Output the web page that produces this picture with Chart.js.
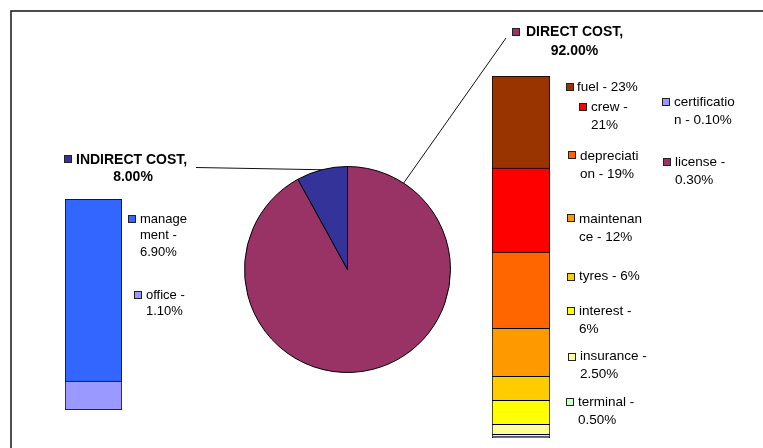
<!DOCTYPE html>
<html>
<head>
<meta charset="utf-8">
<script src="https://cdn.jsdelivr.net/npm/chart.js@4"></script>
<style>
  body { margin: 0; background: #fff; }
  #wrap { position: relative; width: 763px; height: 448px; overflow: hidden; }
  #wrap canvas { position: absolute; left: 0; top: 0; }
</style>
</head>
<body>
<div id="wrap">
  <canvas id="pieChart" width="763" height="448"></canvas>
  <canvas id="indirectChart" width="763" height="448"></canvas>
  <canvas id="directChart" width="763" height="448"></canvas>
</div>
<script>
// Cost split (pie)
const costLabels = ['DIRECT COST', 'INDIRECT COST'];
const costValues = [92, 8];
const costColors = ['#993366', '#333399'];

// Indirect cost breakdown, stacked bottom to top
const indirectNames = ['office', 'management'];
const indirectValues = [1.1, 6.9];
const indirectColors = ['#9999FF', '#3366FF'];
const indirectLegend = [['office -', '1.10%'], ['manage', 'ment -', '6.90%']];

// Direct cost breakdown, stacked bottom to top
const directNames = ['license', 'certification', 'terminal', 'insurance', 'interest', 'tyres', 'maintenance', 'depreciation', 'crew', 'fuel'];
const directValues = [0.3, 0.1, 0.5, 2.5, 6, 6, 12, 19, 21, 23];
const directColors = ['#993366', '#9999FF', '#CCFFCC', '#FFFF99', '#FFFF00', '#FFCC00', '#FF9900', '#FF6600', '#FF0000', '#993300'];
const directLegend = [['license -', '0.30%'], ['certificatio', 'n - 0.10%'], ['terminal -', '0.50%'], ['insurance -', '2.50%'], ['interest -', '6%'], ['tyres - 6%'], ['maintenan', 'ce - 12%'], ['depreciati', 'on - 19%'], ['crew -', '21%'], ['fuel - 23%']];

const FONT = "'Liberation Sans', Arial, sans-serif";
Chart.defaults.font.family = FONT;

// legend spots: [marker x, marker y, text x, first line middle y]
const indirectLegendPos = [[134, 291, 146, 295], [128, 215, 140, 219]];
const directLegendPos = [
  [663, 158, 675, 162], [662, 98, 674, 102], [566, 398, 578, 402], [568, 353, 580, 356],
  [567, 307, 579, 311], [567, 273, 579, 276], [567, 214, 579, 219], [568, 151, 580, 156],
  [579, 103, 591, 107], [566, 83, 577, 87]
];

function drawMarker(ctx, x, y, color) {
  ctx.fillStyle = color;
  ctx.fillRect(x, y, 8, 8);
  ctx.strokeStyle = '#222';
  ctx.lineWidth = 1;
  ctx.strokeRect(x + 0.5, y + 0.5, 7, 7);
}

// side legend drawn next to each stacked bar
const sideLegend = {
  id: 'sideLegend',
  afterDraw(chart, args, opts) {
    const ctx = chart.ctx;
    ctx.save();
    ctx.font = opts.size + 'px ' + FONT;
    ctx.textBaseline = 'middle';
    ctx.textAlign = 'left';
    chart.data.datasets.forEach((ds, i) => {
      const [mx, my, tx, ty] = opts.pos[i];
      drawMarker(ctx, mx, my, ds.backgroundColor);
      ctx.fillStyle = '#000';
      opts.lines[i].forEach((line, k) => ctx.fillText(line, tx, ty + k * opts.lineHeight));
    });
    ctx.restore();
  }
};

function stackedBar(canvasId, names, values, colors, padding, legend) {
  const total = values.reduce((a, b) => a + b, 0);
  return new Chart(document.getElementById(canvasId), {
    type: 'bar',
    data: {
      labels: [''],
      datasets: names.map((n, i) => ({
        label: n,
        data: [values[i]],
        backgroundColor: colors[i],
        borderColor: '#000',
        borderWidth: 1,
        borderSkipped: i === 0 ? false : 'start',
        barPercentage: 1,
        categoryPercentage: 1
      }))
    },
    options: {
      responsive: false,
      animation: false,
      layout: { padding },
      scales: {
        x: { display: false, stacked: true },
        y: { display: false, stacked: true, min: 0, max: total }
      },
      plugins: {
        legend: { display: false },
        tooltip: { enabled: false },
        sideLegend: legend
      }
    },
    plugins: [sideLegend]
  });
}

// frame, leader lines and slice labels around the pie
const pieLabels = {
  id: 'pieLabels',
  beforeDraw(chart) {
    const ctx = chart.ctx;
    ctx.save();
    ctx.strokeStyle = '#222';
    ctx.lineWidth = 1.6;
    ctx.strokeRect(11, 11, 900, 600);
    ctx.restore();
  },
  afterDraw(chart) {
    const ctx = chart.ctx;
    const arcs = chart.getDatasetMeta(0).data;
    const cx = arcs[0].x, cy = arcs[0].y, r = arcs[0].outerRadius;
    const onArc = a => [cx + r * Math.cos(a), cy + r * Math.sin(a)];

    // leader lines: indirect to its slice middle, direct to upper right of the pie
    const indirectMid = (arcs[1].startAngle + arcs[1].endAngle) / 2;
    const leaders = [
      [[506, 38], onArc(-Math.PI / 2 + 33 * Math.PI / 180)],
      [[196, 167.5], onArc(indirectMid)]
    ];
    ctx.save();
    ctx.strokeStyle = '#111';
    ctx.lineWidth = 1;
    leaders.forEach(([a, b]) => {
      ctx.beginPath();
      ctx.moveTo(a[0], a[1]);
      ctx.lineTo(b[0], b[1]);
      ctx.stroke();
    });

    // [marker x, marker y, name x, name y, value centre x, value y]
    const spots = [[512, 28, 526, 32, 574.5, 51], [64, 155, 76, 160, 133, 177]];
    ctx.font = 'bold 14px ' + FONT;
    ctx.textBaseline = 'middle';
    costLabels.forEach((name, i) => {
      const [mx, my, tx, ty, vx, vy] = spots[i];
      drawMarker(ctx, mx, my, costColors[i]);
      ctx.fillStyle = '#000';
      ctx.textAlign = 'left';
      ctx.fillText(name + ',', tx, ty);
      ctx.textAlign = 'center';
      ctx.fillText(costValues[i].toFixed(2) + '%', vx, vy);
    });
    ctx.restore();
  }
};

new Chart(document.getElementById('pieChart'), {
  type: 'pie',
  data: {
    labels: costLabels,
    datasets: [{
      data: costValues,
      backgroundColor: costColors,
      borderColor: '#000',
      borderWidth: 1
    }]
  },
  options: {
    responsive: false,
    animation: false,
    rotation: 0,
    layout: { padding: { left: 244, right: 312, top: 166, bottom: 75 } },
    plugins: { legend: { display: false }, tooltip: { enabled: false } }
  },
  plugins: [pieLabels]
});

stackedBar('indirectChart', indirectNames, indirectValues, indirectColors,
  { left: 65, right: 641, top: 199, bottom: 38 },
  { lines: indirectLegend, pos: indirectLegendPos, lineHeight: 16.7, size: 13 });
stackedBar('directChart', directNames, directValues, directColors,
  { left: 492, right: 213, top: 76, bottom: 10 },
  { lines: directLegend, pos: directLegendPos, lineHeight: 18.3, size: 13.5 });
</script>
</body>
</html>
